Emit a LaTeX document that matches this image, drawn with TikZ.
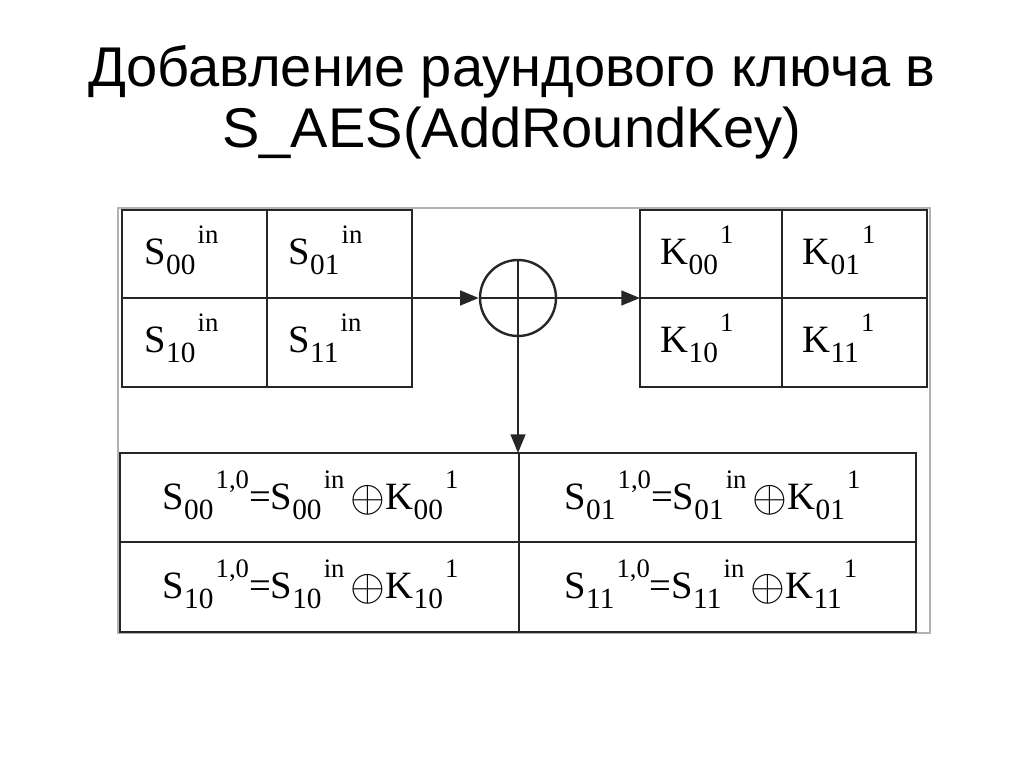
\documentclass[tikz,border=0pt]{standalone}
\usepackage{fontspec}
\setmainfont{Liberation Serif}
\newfontfamily\titlefont{Liberation Sans}
\usetikzlibrary{arrows.meta}
\newcommand{\cl}[3]{#1\raisebox{-0.25em}{\fontsize{22}{22}\selectfont #2}\raisebox{0.55em}{\fontsize{20}{20}\selectfont\hspace{0.08em}#3}}
\newcommand{\xo}{\,\raisebox{-0.05em}{\scalebox{1.35}{$\oplus$}}}
\begin{document}
\begin{tikzpicture}[x=0.75pt,y=-0.75pt,
  ln/.style={line width=1.8pt,black!85},
  ar/.style={ln,-{Triangle[length=14pt,width=11pt]}},
  tx/.style={font=\fontsize{29}{29}\selectfont, anchor=west}]
\useasboundingbox (0,0) rectangle (1024,767);
\node[font=\titlefont\fontsize{42}{46}\selectfont, align=center] (title) at (512,102) {Добавление раундового ключа в\\S\_AES(AddRoundKey)};
\draw[black!30, line width=0.8pt] (118,208) rectangle (930,633);
% left grid
\draw[ln] (122,210) rectangle (412,387);
\draw[ln] (122,298) -- (412,298) (267,210) -- (267,387);
\node[tx] (s00) at (140,250) {\cl{S}{00}{in}};
\node[tx] (s01) at (284,250) {\cl{S}{01}{in}};
\node[tx] (s10) at (140,338) {\cl{S}{10}{in}};
\node[tx] (s11) at (284,338) {\cl{S}{11}{in}};
% right grid
\draw[ln] (640,210) rectangle (927,387);
\draw[ln] (640,298) -- (927,298) (782,210) -- (782,387);
\node[tx] (k00) at (656,250) {\cl{K}{00}{1}};
\node[tx] (k01) at (798,250) {\cl{K}{01}{1}};
\node[tx] (k10) at (656,338) {\cl{K}{10}{1}};
\node[tx] (k11) at (798,338) {\cl{K}{11}{1}};
% xor
\node[draw, circle, line width=1.8pt, black!85, inner sep=0pt, minimum size=57pt] (x) at (518,298) {};
\draw[ln] (x.west) -- (x.east) (x.north) -- (x.south);
\coordinate (lo) at (412,298);
\coordinate (ri) at (640,298);
\coordinate (bt) at (518,453);
\draw[ar] (lo) -- (x.west);
\draw[ar] (x.east) -- (ri);
\draw[ar] (x.south) -- (bt);
% bottom grid
\draw[ln] (120,453) rectangle (916,632);
\draw[ln] (120,542) -- (916,542) (519,453) -- (519,632);
\node[tx] (r00) at (158,495) {\cl{S}{00}{1,0}=\cl{S}{00}{in}\xo\cl{K}{00}{1}};
\node[tx] (r01) at (560,495) {\cl{S}{01}{1,0}=\cl{S}{01}{in}\xo\cl{K}{01}{1}};
\node[tx] (r10) at (158,584) {\cl{S}{10}{1,0}=\cl{S}{10}{in}\xo\cl{K}{10}{1}};
\node[tx] (r11) at (560,584) {\cl{S}{11}{1,0}=\cl{S}{11}{in}\xo\cl{K}{11}{1}};
\end{tikzpicture}
\end{document}
